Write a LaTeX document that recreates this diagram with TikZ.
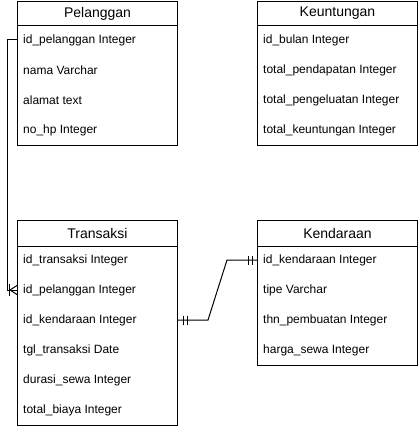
\documentclass[tikz,border=0pt]{standalone}
\usepackage{fontspec}
\setmainfont{Liberation Sans}
\usepackage{tikz}

\begin{document}
\begin{tikzpicture}[x=1pt,y=-1pt,
  every node/.style={font=\fontsize{12}{14}\selectfont},
  entity/.style={draw,line width=1pt,anchor=north west,minimum width=160pt,inner sep=0pt},
  title/.style={font=\fontsize{14}{16}\selectfont},
  field/.style={anchor=west,inner sep=0pt},
  rel/.style={line width=1pt}]
  \useasboundingbox (0,0) rectangle (418,430);
  % tables
  \node[entity,minimum height=144pt] (pel) at (17,1) {};
  \node[entity,minimum height=144pt] (keu) at (257,1) {};
  \node[entity,minimum height=205pt] (tr) at (17,220) {};
  \node[entity,minimum height=145pt] (ken) at (257,220) {};
  \draw[rel] ([yshift=-25pt]pel.north west) -- ([yshift=-25pt]pel.north east);
  \draw[rel] ([yshift=-25pt]keu.north west) -- ([yshift=-25pt]keu.north east);
  \draw[rel] ([yshift=-26pt]tr.north west) -- ([yshift=-26pt]tr.north east);
  \draw[rel] ([yshift=-26pt]ken.north west) -- ([yshift=-26pt]ken.north east);
  \node[title] (pel-t) at ([yshift=-12.5pt]pel.north) {Pelanggan};
  \node[title] (keu-t) at ([yshift=-12.5pt]keu.north) {Keuntungan};
  \node[title] (tr-t) at ([yshift=-13pt]tr.north) {Transaksi};
  \node[title] (ken-t) at ([yshift=-13pt]ken.north) {Kendaraan};
  % fields
  \node[field] (pel-id) at (23,40) {id\_pelanggan Integer};
  \node[field] (pel-nama) at (23,70) {nama Varchar};
  \node[field] (pel-alamat) at (23,100) {alamat text};
  \node[field] (pel-hp) at (23,130) {no\_hp Integer};
  \node[field] (keu-id) at (263,40) {id\_bulan Integer};
  \node[field] (keu-pend) at (263,70) {total\_pendapatan Integer};
  \node[field] (keu-peng) at (263,100) {total\_pengeluatan Integer};
  \node[field] (keu-total) at (263,130) {total\_keuntungan Integer};
  \node[field] (tr-id) at (23,260) {id\_transaksi Integer};
  \node[field] (tr-pel) at (23,290) {id\_pelanggan Integer};
  \node[field] (tr-ken) at (23,320) {id\_kendaraan Integer};
  \node[field] (tr-tgl) at (23,350) {tgl\_transaksi Date};
  \node[field] (tr-durasi) at (23,380) {durasi\_sewa Integer};
  \node[field] (tr-biaya) at (23,410) {total\_biaya Integer};
  \node[field] (ken-id) at (263,260) {id\_kendaraan Integer};
  \node[field] (ken-tipe) at (263,290) {tipe Varchar};
  \node[field] (ken-thn) at (263,320) {thn\_pembuatan Integer};
  \node[field] (ken-harga) at (263,350) {harga\_sewa Integer};
  % relations
  \coordinate (pel-out) at (pel.west |- pel-id);
  \coordinate (tr-in) at (tr.west |- tr-pel);
  \coordinate (tr-out) at (tr.east |- tr-ken);
  \coordinate (ken-in) at (ken.west |- ken-id);
  \draw[rel] (pel-out) -- ++(-10,0) |- (tr-in);
  \draw[rel] ([xshift=-8pt,yshift=6pt]tr-in) -- ([xshift=-8pt,yshift=-6pt]tr-in);
  \draw[rel] ([yshift=4.5pt]tr-in) -- ([xshift=-7pt]tr-in) -- ([yshift=-4.5pt]tr-in);
  \draw[rel] (tr-out) -- ++(30,0) -- ([xshift=-30pt]ken-in) -- (ken-in);
  \draw[rel] ([xshift=5pt,yshift=4.5pt]tr-out) -- ++(0,-9pt);
  \draw[rel] ([xshift=9pt,yshift=4.5pt]tr-out) -- ++(0,-9pt);
  \draw[rel] ([xshift=-5pt,yshift=4.5pt]ken-in) -- ++(0,-9pt);
  \draw[rel] ([xshift=-9pt,yshift=4.5pt]ken-in) -- ++(0,-9pt);
\end{tikzpicture}
\end{document}
